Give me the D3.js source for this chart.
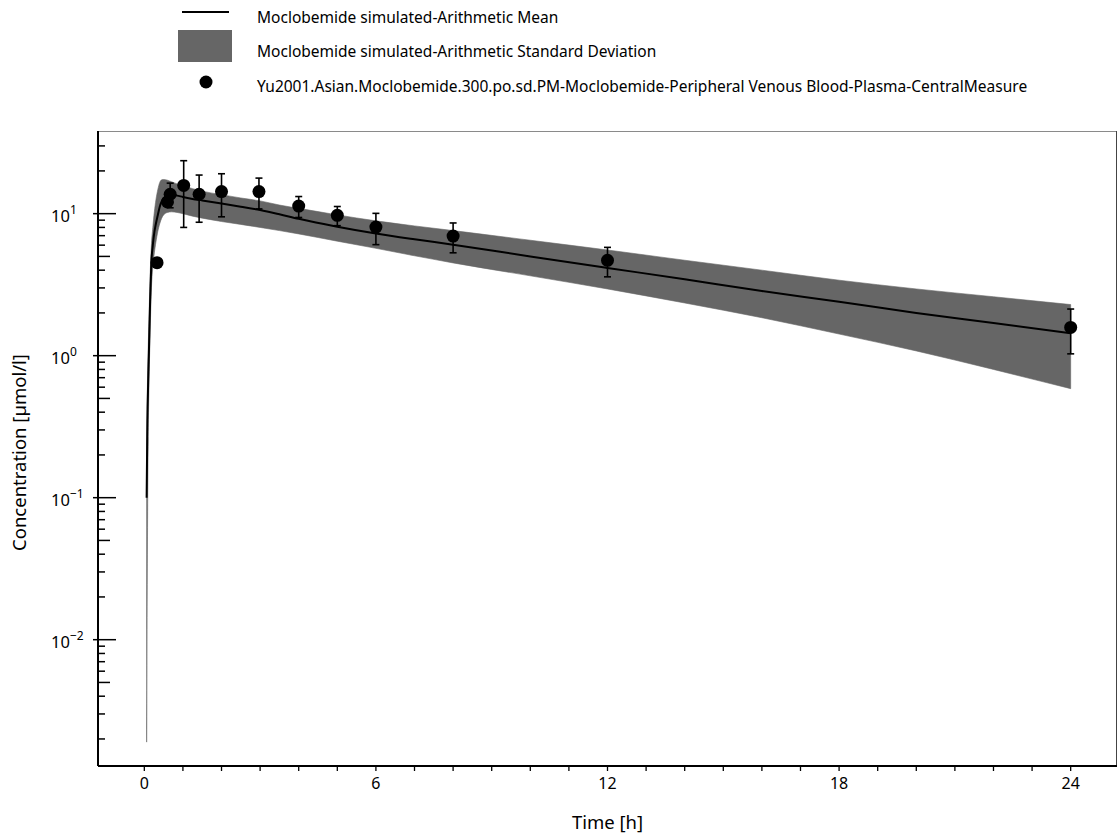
<!DOCTYPE html>
<html>
<head>
<meta charset="utf-8">
<script src="https://cdn.jsdelivr.net/npm/d3@7/dist/d3.min.js"></script>
<style>
  body { margin: 0; background: #fff; }
  svg text { font-family: "Noto Sans", sans-serif; fill: #000; }
</style>
</head>
<body>
<svg id="chart" width="1119" height="839"></svg>
<script>
// Simulated plasma concentration (µmol/l) over time (h)
const simTime  = [0.06, 0.08, 0.1, 0.12, 0.15, 0.18, 0.22, 0.26, 0.3, 0.35, 0.4, 0.45, 0.5, 0.6, 0.7, 0.85, 1, 1.25, 1.5, 2, 2.5, 3, 3.5, 4, 5, 6, 7, 8, 10, 12, 14, 16, 18, 20, 22, 24];
const simMean  = [0.10, 0.35, 0.65, 1.09, 2.4, 4.4, 6.0, 7.4, 8.5, 9.8, 11.2, 12.2, 12.8, 13.4, 13.6, 13.4, 13.1, 12.7, 12.4, 11.8, 11.2, 10.6, 9.9, 9.2, 8.1, 7.25, 6.6, 6.05, 5.0, 4.15, 3.45, 2.85, 2.4, 2.0, 1.7, 1.44];
const simLower = [0.0019, 0.04, 0.25, 0.6, 1.4, 2.8, 4.2, 5.3, 6.3, 7.5, 8.5, 9.3, 9.8, 10.2, 10.3, 10.2, 10.0, 9.6, 9.3, 8.8, 8.4, 8.0, 7.6, 7.2, 6.4, 5.7, 5.05, 4.5, 3.65, 2.95, 2.35, 1.85, 1.42, 1.08, 0.8, 0.586];
const simUpper = [0.2, 0.6, 1.1, 1.8, 3.6, 5.8, 8.0, 10.3, 12.5, 14.8, 16.6, 17.3, 17.4, 17.2, 16.8, 16.2, 15.7, 15.0, 14.4, 13.6, 12.9, 12.3, 11.5, 10.9, 9.8, 8.9, 8.2, 7.6, 6.5, 5.55, 4.7, 4.0, 3.4, 2.95, 2.6, 2.29];

// Observed data: mean and standard deviation
const obsTime = [0.33, 0.6, 0.67, 1.02, 1.42, 2.0, 2.97, 4, 5, 6, 8, 12, 24];
const obsMean = [4.52, 12.1, 13.7, 15.8, 13.7, 14.3, 14.3, 11.3, 9.73, 8.05, 6.95, 4.69, 1.58];
const obsSd   = [0, 0, 2.7, 7.8, 5.0, 4.8, 3.5, 1.9, 1.5, 2.0, 1.65, 1.1, 0.55];

const xTickValues = [0, 6, 12, 18, 24];
const yDecadeExponents = [-2, -1, 0, 1];
const legendLabels = [
  "Moclobemide simulated-Arithmetic Mean",
  "Moclobemide simulated-Arithmetic Standard Deviation",
  "Yu2001.Asian.Moclobemide.300.po.sd.PM-Moclobemide-Peripheral Venous Blood-Plasma-CentralMeasure"
];
const xTitle = "Time [h]";
const yTitle = "Concentration [µmol/l]";

const plot = { left: 98, right: 1117, top: 131, bottom: 766 };
const svg = d3.select("#chart");

const x = d3.scaleLinear().domain([-1.2, 25.2]).range([plot.left, plot.right]);
const y = d3.scaleLog().domain([0.00129, 38.2]).range([plot.bottom, plot.top]);

const sim = simTime.map((t, i) => ({ t, mean: simMean[i], lo: simLower[i], hi: simUpper[i] }));
const obs = obsTime.map((t, i) => ({ t, v: obsMean[i], sd: obsSd[i] }));

svg.append("defs").append("clipPath").attr("id", "plotClip")
  .append("rect").attr("x", plot.left).attr("y", plot.top)
  .attr("width", plot.right - plot.left).attr("height", plot.bottom - plot.top);

const g = svg.append("g").attr("clip-path", "url(#plotClip)");

// SD band
g.append("path")
  .datum(sim)
  .attr("fill", "#666666")
  .attr("stroke", "#666666")
  .attr("stroke-width", 0.6)
  .attr("d", d3.area()
    .x(d => x(d.t))
    .y0(d => y(d.lo))
    .y1(d => y(d.hi))
    .curve(d3.curveMonotoneX));

// Mean line
g.append("path")
  .datum(sim)
  .attr("fill", "none")
  .attr("stroke", "#000")
  .attr("stroke-width", 2)
  .attr("d", d3.line()
    .x(d => x(d.t))
    .y(d => y(d.mean))
    .curve(d3.curveMonotoneX));

// Error bars
const eb = g.append("g").attr("stroke", "#000").attr("stroke-width", 1.6);
obs.filter(d => d.sd > 0).forEach(d => {
  const cx = x(d.t), y1 = y(d.v + d.sd), y2 = y(d.v - d.sd);
  eb.append("line").attr("x1", cx).attr("x2", cx).attr("y1", y1).attr("y2", y2);
  eb.append("line").attr("x1", cx - 3.5).attr("x2", cx + 3.5).attr("y1", y1).attr("y2", y1);
  eb.append("line").attr("x1", cx - 3.5).attr("x2", cx + 3.5).attr("y1", y2).attr("y2", y2);
});

// Observed points
g.append("g").selectAll("circle").data(obs).join("circle")
  .attr("cx", d => x(d.t)).attr("cy", d => y(d.v)).attr("r", 6.5).attr("fill", "#000");

// Frame: top and right
svg.append("line").attr("x1", plot.left).attr("x2", plot.right).attr("y1", plot.top + 0.5).attr("y2", plot.top + 0.5)
  .attr("stroke", "#8a8a8a").attr("stroke-width", 1);
svg.append("line").attr("x1", plot.right - 0.5).attr("x2", plot.right - 0.5).attr("y1", plot.top).attr("y2", plot.bottom)
  .attr("stroke", "#444").attr("stroke-width", 1);

// X axis
const xAxis = svg.append("g");
xAxis.append("line").attr("x1", plot.left).attr("x2", plot.right).attr("y1", plot.bottom).attr("y2", plot.bottom)
  .attr("stroke", "#000").attr("stroke-width", 2);
d3.range(0, 25, 1).forEach(t => {
  xAxis.append("line").attr("x1", x(t)).attr("x2", x(t)).attr("y1", plot.bottom).attr("y2", plot.bottom + 5)
    .attr("stroke", "#000").attr("stroke-width", 1.3);
});
xAxis.selectAll("text.xt").data(xTickValues).join("text")
  .attr("class", "xt")
  .attr("x", d => x(d)).attr("y", 789)
  .attr("text-anchor", "middle").attr("font-size", 16)
  .text(d => d);
svg.append("text").attr("x", (plot.left + plot.right) / 2).attr("y", 829)
  .attr("text-anchor", "middle").attr("font-size", 18.5).text(xTitle);

// Y axis
const yAxis = svg.append("g");
yAxis.append("line").attr("x1", plot.left).attr("x2", plot.left).attr("y1", plot.top).attr("y2", plot.bottom)
  .attr("stroke", "#000").attr("stroke-width", 2);
const [yLo, yHi] = y.domain();
for (let e = -3; e <= 1; e++) {
  for (let m = 1; m <= 9; m++) {
    const v = m * Math.pow(10, e);
    if (v < yLo || v > yHi) continue;
    const yy = y(v);
    let x1 = plot.left, x2 = plot.left + 7;
    if (m === 1) { x1 = plot.left - 5; x2 = plot.left + 18; }
    else if (m === 5) { x2 = plot.left + 12; }
    yAxis.append("line").attr("x1", x1).attr("x2", x2).attr("y1", yy).attr("y2", yy)
      .attr("stroke", "#000").attr("stroke-width", 1.5);
  }
}
yDecadeExponents.forEach(e => {
  const t = yAxis.append("text").attr("x", 51).attr("y", y(Math.pow(10, e)) + 8).attr("font-size", 16.5);
  t.append("tspan").text("10");
  t.append("tspan").attr("dy", -8).attr("font-size", 12).text(e < 0 ? "\u2212" + Math.abs(e) : String(e));
});
svg.append("text")
  .attr("transform", `translate(26,${(plot.top + plot.bottom) / 2 + 4}) rotate(-90)`)
  .attr("text-anchor", "middle").attr("font-size", 18.5).text(yTitle);

// Legend
const lg = svg.append("g");
lg.append("line").attr("x1", 182).attr("x2", 229).attr("y1", 12).attr("y2", 12).attr("stroke", "#000").attr("stroke-width", 2);
lg.append("rect").attr("x", 178).attr("y", 30).attr("width", 54).attr("height", 32).attr("fill", "#666666");
lg.append("circle").attr("cx", 206).attr("cy", 82).attr("r", 6.5).attr("fill", "#000");
[18, 52, 87].forEach((yy, i) => {
  lg.append("text").attr("x", 257).attr("y", yy + 5).attr("font-size", 15.5).text(legendLabels[i]);
});
</script>
</body>
</html>
